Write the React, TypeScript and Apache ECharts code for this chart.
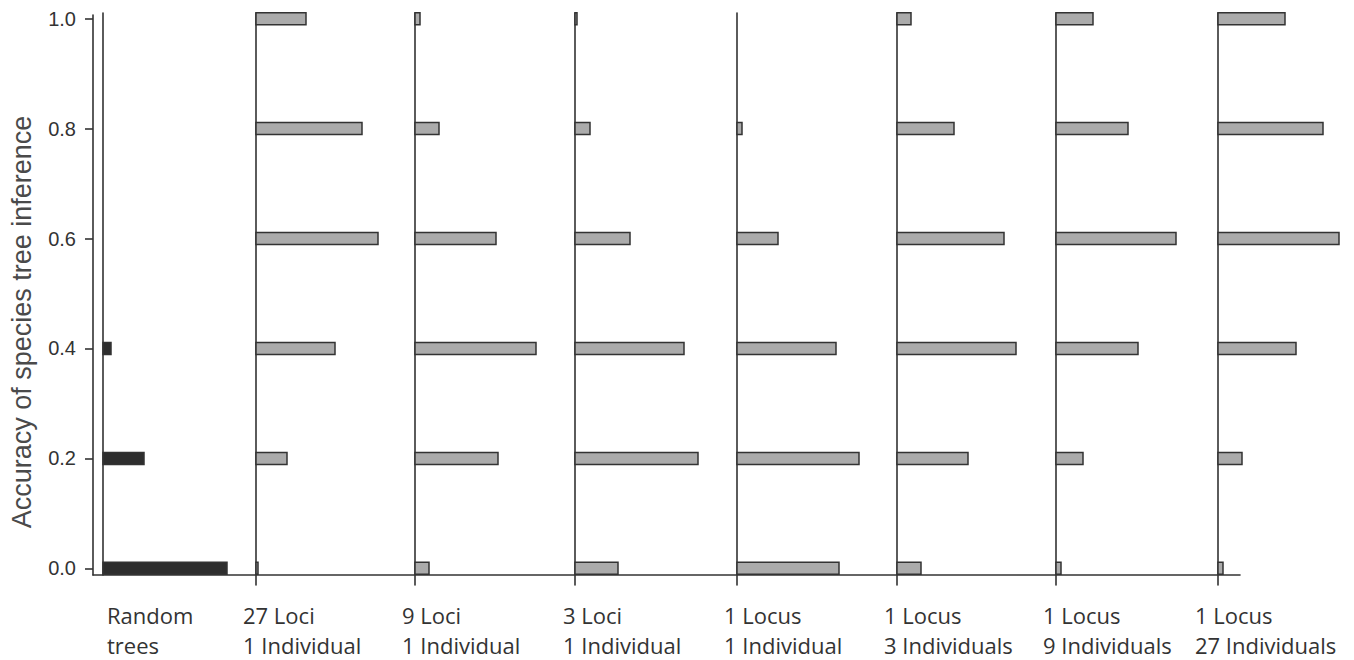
import React, { useEffect, useRef } from "react";
import * as echarts from "echarts";

// Accuracy levels (y) and their tick labels
const accuracyLevels = [0.0, 0.2, 0.4, 0.6, 0.8, 1.0];
const yTickLabels = ["0.0", "0.2", "0.4", "0.6", "0.8", "1.0"];
const yAxisTitle = "Accuracy of species tree inference";

// Group (panel) names
const groupNames = [
  "Random\ntrees",
  "27 Loci\n1 Individual",
  "9 Loci\n1 Individual",
  "3 Loci\n1 Individual",
  "1 Locus\n1 Individual",
  "1 Locus\n3 Individuals",
  "1 Locus\n9 Individuals",
  "1 Locus\n27 Individuals",
];

// Frequencies (bar lengths) for accuracy 0.0, 0.2, 0.4, 0.6, 0.8, 1.0
const randomTrees = [124, 41, 8, 0, 0, 0];
const loci27Ind1 = [2, 31, 79, 122, 106, 50];
const loci9Ind1 = [14, 83, 121, 81, 24, 5];
const loci3Ind1 = [43, 123, 109, 55, 15, 2];
const locus1Ind1 = [102, 122, 99, 41, 5, 0];
const locus1Ind3 = [24, 71, 119, 107, 57, 14];
const locus1Ind9 = [5, 27, 82, 120, 72, 37];
const locus1Ind27 = [5, 24, 78, 121, 105, 67];

const groupValues = [
  randomTrees,
  loci27Ind1,
  loci9Ind1,
  loci3Ind1,
  locus1Ind1,
  locus1Ind3,
  locus1Ind9,
  locus1Ind27,
];

// ---- layout (pixels) ----
const panelLeft = [103, 256, 415, 575, 737, 897, 1056, 1218];
const labelLeft = [107, 243, 402, 563, 724, 884, 1043, 1195];
const panelWidth = 130;
const panelXMax = 130;
const y0px = 568.3; // pixel of accuracy 0
const ppu = 549.6; // pixels per accuracy unit
const panelTop = 13;
const frameLeft = 93;
const frameRight = 1240;
const frameTop = 15;
const frameBottom = 575;

const INK = "#333333";
const BAR_GRAY = "#ababab";
const BAR_DARK = "#2e2e2e";

export default function App() {
  const ref = useRef<HTMLDivElement>(null);

  useEffect(() => {
    if (!ref.current) return;
    const chart = echarts.init(ref.current, undefined, { renderer: "svg" });

    const grids: any[] = [];
    const xAxes: any[] = [];
    const yAxes: any[] = [];
    const series: any[] = [];

    // Grid 0: frame (left axis line + bottom axis line)
    grids.push({
      left: frameLeft,
      top: frameTop,
      width: frameRight - frameLeft,
      height: frameBottom - frameTop,
      containLabel: false,
    });
    xAxes.push({
      gridIndex: 0,
      type: "value",
      min: 0,
      max: 1,
      axisLine: { show: true, lineStyle: { color: INK, width: 1.6 } },
      axisTick: { show: false },
      axisLabel: { show: false },
      splitLine: { show: false },
    });
    yAxes.push({
      gridIndex: 0,
      type: "value",
      min: 0,
      max: 1,
      axisLine: { show: true, lineStyle: { color: INK, width: 1.6 } },
      axisTick: { show: false },
      axisLabel: { show: false },
      splitLine: { show: false },
    });

    // Grid 1: tick labels for accuracy
    grids.push({
      left: frameLeft,
      top: y0px - ppu,
      width: 10,
      height: ppu,
    });
    xAxes.push({
      gridIndex: 1,
      type: "value",
      min: 0,
      max: 1,
      show: false,
    });
    yAxes.push({
      gridIndex: 1,
      type: "value",
      min: 0,
      max: 1,
      interval: 0.2,
      axisLine: { show: false },
      axisTick: { show: true, length: 8, lineStyle: { color: INK, width: 1.6 } },
      axisLabel: {
        show: true,
        margin: 17,
        color: INK,
        fontSize: 20,
        fontFamily: "Liberation Sans",
        formatter: (v: number) => {
          const idx = accuracyLevels.findIndex((a) => Math.abs(a - v) < 1e-6);
          return idx >= 0 ? yTickLabels[idx] : "";
        },
      },
      splitLine: { show: false },
    });

    // Panels
    groupValues.forEach((vals, i) => {
      const gi = i + 2;
      const bottom = i === 0 ? frameBottom : 585;
      grids.push({
        left: panelLeft[i],
        top: panelTop,
        width: panelWidth,
        height: bottom - panelTop,
      });
      xAxes.push({
        gridIndex: gi,
        type: "value",
        min: 0,
        max: panelXMax,
        show: false,
      });
      yAxes.push({
        gridIndex: gi,
        type: "value",
        min: (y0px - bottom) / ppu,
        max: (y0px - panelTop) / ppu,
        axisLine: { show: true, onZero: false, lineStyle: { color: INK, width: 1.6 } },
        axisTick: { show: false },
        axisLabel: { show: false },
        splitLine: { show: false },
      });
      const fill = i === 0 ? BAR_DARK : BAR_GRAY;
      series.push({
        type: "custom",
        name: groupNames[i].replace("\n", " "),
        coordinateSystem: "cartesian2d",
        xAxisIndex: gi,
        yAxisIndex: gi,
        encode: { x: 0, y: 1 },
        data: vals.map((v, k) => [v, accuracyLevels[k]]),
        z: 3,
        renderItem: (params: any, api: any) => {
          const v = api.value(0);
          const y = api.value(1);
          if (!(v > 0)) return null;
          const a = api.coord([0, y]);
          const b = api.coord([v, y]);
          const h = 12;
          return {
            type: "rect",
            shape: { x: a[0], y: a[1] - h / 2, width: b[0] - a[0], height: h },
            style: { fill, stroke: INK, lineWidth: 1.5 },
          };
        },
      });
    });

    const graphics: any[] = [
      {
        type: "text",
        x: 22,
        y: 322,
        rotation: Math.PI / 2,
        style: {
          text: yAxisTitle,
          font: '27px "Liberation Sans"',
          fill: "#4a4a4a",
          align: "center",
          verticalAlign: "middle",
        },
      },
    ];
    groupNames.forEach((name, i) => {
      graphics.push({
        type: "text",
        x: labelLeft[i],
        y: 600,
        style: {
          text: name,
          font: '22px "Open Sans"',
          lineHeight: 30,
          fill: INK,
          align: "left",
          verticalAlign: "top",
        },
      });
    });

    chart.setOption({
      animation: false,
      backgroundColor: "#ffffff",
      grid: grids,
      xAxis: xAxes,
      yAxis: yAxes,
      series,
      graphic: graphics,
    });

    return () => chart.dispose();
  }, []);

  return (
    <div
      ref={ref}
      style={{ position: "fixed", left: 0, top: 0, width: 1354, height: 660 }}
    />
  );
}
